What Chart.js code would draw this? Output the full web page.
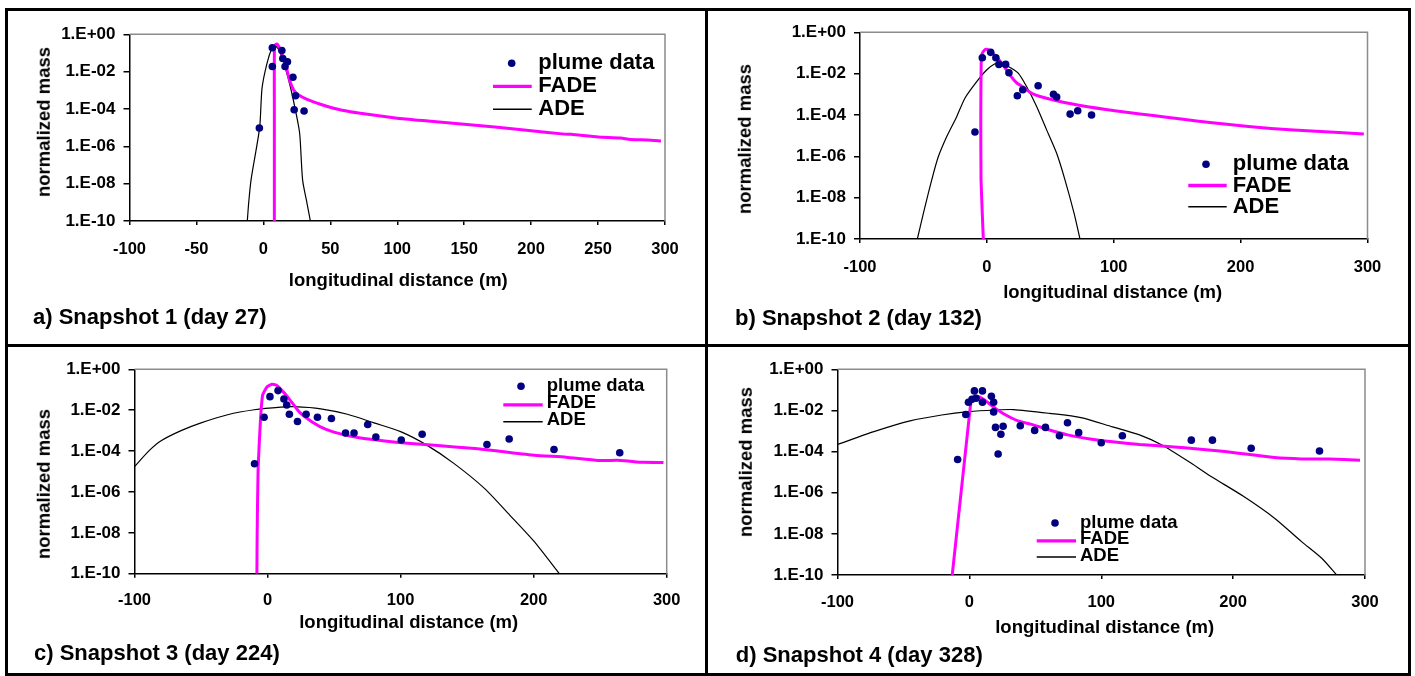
<!DOCTYPE html>
<html>
<head>
<meta charset="utf-8">
<title>Plume snapshots</title>
<script src="https://cdn.jsdelivr.net/npm/chart.js@4.4.0/dist/chart.umd.min.js"></script>
<style>
  body { margin:0; background:#fff; width:1415px; height:676px; overflow:hidden; position:relative;
         font-family:"Liberation Sans", Arial, sans-serif; font-weight:bold; color:#000; }
  #frame { position:absolute; left:5px; top:8px; width:1406px; height:668px; border:3px solid #000; box-sizing:border-box; }
  #vdiv { position:absolute; left:705px; top:8px; width:3px; height:668px; background:#000; }
  #hdiv { position:absolute; left:5px; top:344px; width:1406px; height:3px; background:#000; }
  canvas { position:absolute; }
  .lbl { position:absolute; white-space:nowrap; line-height:1; }
</style>
</head>
<body>
<div id="frame"></div>
<div id="vdiv"></div>
<div id="hdiv"></div>

<script>
// axis ticks
var xTicksA = [-100, -50, 0, 50, 100, 150, 200, 250, 300];
var xTicksWide = [-100, 0, 100, 200, 300];
var yTicks = [1e-10, 1e-8, 1e-6, 1e-4, 1e-2, 1];
var yTickLabels = ['1.E-10', '1.E-08', '1.E-06', '1.E-04', '1.E-02', '1.E+00'];

var seriesNames = ['plume data', 'FADE', 'ADE'];
var xTitle = 'longitudinal distance (m)';
var yTitle = 'normalized mass';
var captions = ['a) Snapshot 1 (day 27)', 'b) Snapshot 2 (day 132)', 'c) Snapshot 3 (day 224)', 'd) Snapshot 4 (day 328)'];

// snapshot 1 (day 27): [distance m, normalized mass]
var plume1 = [[-3, 9.5e-6], [6.7, 0.19], [6.7, 0.019], [13.8, 0.135], [14.5, 0.051], [16.2, 0.019], [18, 0.034],
  [22.1, 5e-3], [24, 5.1e-4], [23, 9.1e-5], [30.4, 7.8e-5]];
var fade1 = [[8.2, 1e-10], [8.2, 1e-4], [8.2, 0.2], [9.2, 0.29], [10.2, 0.30], [11.5, 0.22], [12.7, 0.145], [16.4, 0.028],
  [19.6, 3.5e-3], [22.6, 1.05e-3], [26.4, 5.6e-4], [32.6, 3.3e-4], [42.6, 1.8e-4], [52.5, 1.1e-4], [65, 7.1e-5],
  [72.4, 5.9e-5], [100, 3.2e-5], [125, 2.2e-5], [150, 1.5e-5], [175, 1.05e-5], [200, 6.9e-6], [225, 4.5e-6],
  [230, 4.4e-6], [250, 3.2e-6], [267, 2.8e-6], [274, 2.3e-6], [287, 2.2e-6], [297, 1.95e-6]];
var ade1 = [[-12, 1e-10], [-11, 8.9e-10], [-9.2, 1.6e-8], [-2.8, 1e-5], [-1, 1.3e-3], [2.7, 0.028], [6.5, 0.19],
  [8.5, 0.25], [11, 0.17], [12.7, 0.095], [15.7, 0.023], [20.1, 1.6e-3], [23.9, 8.9e-5], [27.1, 5e-6],
  [29.3, 1.6e-8], [32.6, 8.9e-10], [35.1, 1e-10]];

// snapshot 2 (day 132)
var plume2 = [[-9.4, 1.5e-5], [-3.6, 0.059], [3, 0.107], [7.1, 0.059], [9.5, 0.028], [14.8, 0.028], [17.4, 0.011],
  [24, 8.5e-4], [28.3, 1.65e-3], [40.4, 2.6e-3], [52.5, 1.0e-3], [55, 7.4e-4], [65.6, 1.1e-4], [71.6, 1.6e-4],
  [82.5, 1.0e-4]];
var fade2 = [[-2.8, 1e-10], [-4.6, 7e-8], [-4.8, 1e-4], [-4.5, 0.03], [-3.8, 0.09], [-2, 0.135], [0, 0.15], [3, 0.12],
  [7.7, 0.062], [12.9, 0.026], [18.2, 8.5e-3], [23.5, 3.6e-3], [28.7, 2.2e-3], [35.3, 1.12e-3], [41.9, 7.8e-4],
  [55, 4.9e-4], [76, 2.7e-4], [102.3, 1.55e-4], [120.7, 1.12e-4], [141.7, 7.8e-5], [154.8, 6.2e-5], [175.8, 4.3e-5],
  [206.2, 2.75e-5], [241.8, 1.86e-5], [277.5, 1.41e-5], [297.1, 1.2e-5]];
var ade2 = [[-54.8, 1e-10], [-50.1, 1.7e-9], [-43.5, 7.1e-8], [-38.3, 9.5e-7], [-31.7, 8.9e-6], [-23.8, 8.3e-5],
  [-17.3, 6.5e-4], [-8, 4.1e-3], [-0.2, 0.015], [6.4, 0.030], [10.3, 0.032], [16.9, 0.022], [24.7, 0.0105],
  [31.4, 2.3e-3], [39.3, 2.5e-4], [47.1, 1.9e-5], [55, 1.4e-6], [61.6, 7.1e-8], [68.8, 1.7e-9], [73.4, 1e-10]];

// snapshot 3 (day 224)
var plume3 = [[-9.8, 2.4e-5], [-2.6, 4.5e-3], [1.8, 0.046], [7.9, 0.091], [12.3, 0.035], [14.4, 0.018], [16.4, 6.3e-3],
  [22.5, 2.8e-3], [29, 6.3e-3], [37.5, 4.5e-3], [48, 3.9e-3], [58.6, 7.6e-4], [65, 7.6e-4], [75.3, 2.0e-3],
  [81.4, 4.9e-4], [100.5, 3.5e-4], [116.2, 6.6e-4], [164.9, 2.1e-4], [181.6, 3.9e-4], [215.3, 1.2e-4], [264.7, 8.3e-5]];
var fade3 = [[-8, 1e-10], [-7.8, 1e-8], [-7.1, 1.4e-5], [-5.4, 2.75e-3], [-3.7, 0.055], [-0.3, 0.141], [3.2, 0.186],
  [6.5, 0.17], [11.6, 0.081], [16.8, 0.032], [23.6, 8.5e-3], [33.8, 2.6e-3], [44, 1.15e-3], [57.6, 6.2e-4],
  [71.2, 4.2e-4], [88, 3.1e-4], [105.2, 2.4e-4], [125.6, 1.9e-4], [156, 1.32e-4], [173.3, 1.0e-4], [200.6, 6.3e-5],
  [224.4, 5.0e-5], [248.3, 3.5e-5], [265.3, 3.5e-5], [282.3, 2.8e-5], [297.6, 2.75e-5]];
var ade3 = [[-100, 1.74e-5], [-89, 1.05e-4], [-80, 3.2e-4], [-65, 1.0e-3], [-50, 2.4e-3], [-30, 6.0e-3], [-10, 0.0105],
  [10, 0.0141], [20, 0.0148], [40, 0.0117], [60, 6.3e-3], [80, 2.4e-3], [100, 8.9e-4], [120, 1.9e-4], [140, 2.5e-5],
  [163, 1.5e-6], [182, 7.4e-8], [200, 4.0e-9], [219.3, 1e-10]];

// snapshot 4 (day 328)
var plume4 = [[-8.9, 4.1e-5], [-2.7, 6.3e-3], [-0.7, 0.025], [2.0, 0.035], [3.8, 0.089], [5.1, 0.039], [9.9, 0.089],
  [9.9, 0.025], [16.7, 0.049], [18.4, 0.025], [18.4, 8.5e-3], [19.8, 1.5e-3], [21.8, 7.6e-5], [23.9, 6.9e-4],
  [25.6, 1.7e-3], [38.6, 1.8e-3], [49.5, 1.07e-3], [57.7, 1.5e-3], [68.3, 5.9e-4], [74.4, 2.5e-3], [82.9, 8.3e-4],
  [100, 2.7e-4], [116, 5.9e-4], [168.3, 3.6e-4], [184.3, 3.6e-4], [213.7, 1.45e-4], [265.5, 1.07e-4]];
var fade4 = [[-13, 1e-10], [0.3, 8.7e-3], [1.5, 0.032], [4, 0.050], [8, 0.044], [13, 0.027], [19.8, 0.0126],
  [26.6, 6.5e-3], [36.9, 3.1e-3], [47.1, 2.1e-3], [60.8, 1.12e-3], [74.4, 6.5e-4], [91.5, 4.1e-4], [108.5, 3.0e-4],
  [129, 2.2e-4], [152.9, 1.74e-4], [173.4, 1.35e-4], [193.9, 1.0e-4], [211, 7.4e-5], [231.4, 5.1e-5],
  [251.9, 4.4e-5], [272.4, 4.4e-5], [296.2, 3.8e-5]];
var ade4 = [[-100, 2.2e-4], [-72.4, 9.3e-4], [-45, 3.1e-3], [-21, 6.0e-3], [-0.7, 8.7e-3], [19.8, 0.0105],
  [33.4, 0.011], [60.8, 7.2e-3], [84.6, 4.5e-3], [108.5, 1.6e-3], [129, 6.5e-4], [146, 2.1e-4], [168.3, 2.7e-5],
  [183.6, 6.0e-6], [207.5, 6.9e-7], [231.4, 5.8e-8], [251.9, 4.2e-9], [267.2, 6.5e-10], [278.5, 1e-10]];

var FONT = '"Liberation Sans", Arial, sans-serif';

// where each panel sits on the page and where its plot area goes inside the canvas
var panels = [
  { box: [8, 11, 697, 333], area: { left: 121.5, top: 23.3, right: 657, bottom: 210 }, xTicks: xTicksA, xPad: 14.7,
    legend: { size: 22, dotX: 503.7, textX: 530.3, lineX1: 485, lineX2: 523.7, y: 52.3, gap: 23, lineDy: 0 },
    xTitlePos: [398.3, 280], yTitlePos: [44, 122.2], captionPos: [33, 316.7],
    plume: plume1, fade: fade1, ade: ade1 },
  { box: [708, 11, 700, 333], area: { left: 152, top: 21.3, right: 659.5, bottom: 228 }, xTicks: xTicksWide, xPad: 14.1,
    legend: { size: 22, dotX: 498, textX: 524.7, lineX1: 480.3, lineX2: 518.7, y: 153.2, gap: 21.3, lineDy: 0 },
    xTitlePos: [1112.6, 291.7], yTitlePos: [744.9, 139.2], captionPos: [735, 318.3],
    plume: plume2, fade: fade2, ade: ade2 },
  { box: [8, 347, 697, 326], area: { left: 126.5, top: 22.3, right: 658.7, bottom: 226.7 }, xTicks: xTicksWide, xPad: 12.7,
    legend: { size: 18.5, dotX: 513, textX: 538.7, lineX1: 495.3, lineX2: 534.7, y: 39.3, gap: 17, lineDy: 1.5 },
    xTitlePos: [408.7, 622.3], yTitlePos: [43.9, 484], captionPos: [34, 653.3],
    plume: plume3, fade: fade3, ade: ade3 },
  { box: [708, 347, 700, 326], area: { left: 129.5, top: 22.3, right: 657, bottom: 228 }, xTicks: xTicksWide, xPad: 13.1,
    legend: { size: 18.5, dotX: 347, textX: 372, lineX1: 328.7, lineX2: 368, y: 176, gap: 16.3, lineDy: 1.5 },
    xTitlePos: [1104.7, 626.7], yTitlePos: [745.8, 462.2], captionPos: [735.8, 655],
    plume: plume4, fade: fade4, ade: ade4 }
];

// gray border on the top and right of the plot area
var plotFrame = {
  id: 'plotFrame',
  beforeDatasetsDraw: function(chart) {
    var a = chart.chartArea, ctx = chart.ctx;
    ctx.save();
    ctx.strokeStyle = '#8c8c8c';
    ctx.lineWidth = 1.5;
    ctx.beginPath();
    ctx.moveTo(a.left, a.top);
    ctx.lineTo(a.right, a.top);
    ctx.lineTo(a.right, a.bottom);
    ctx.stroke();
    ctx.restore();
  }
};

// legend drawn inside the plot, one row per dataset
var insideLegend = {
  id: 'insideLegend',
  afterDatasetsDraw: function(chart, args, opts) {
    var ctx = chart.ctx;
    ctx.save();
    ctx.font = 'bold ' + opts.size + 'px ' + FONT;
    ctx.textBaseline = 'middle';
    ctx.textAlign = 'left';
    chart.data.datasets.forEach(function(ds, i) {
      var rowY = opts.y + i * opts.gap;
      if (ds.showLine === false) {
        ctx.beginPath();
        ctx.arc(opts.dotX, rowY, ds.pointRadius, 0, Math.PI * 2);
        ctx.fillStyle = ds.backgroundColor;
        ctx.fill();
      } else {
        ctx.beginPath();
        ctx.moveTo(opts.lineX1, rowY + opts.lineDy);
        ctx.lineTo(opts.lineX2, rowY + opts.lineDy);
        ctx.strokeStyle = ds.borderColor;
        ctx.lineWidth = ds.borderWidth + 0.3;
        ctx.stroke();
      }
      ctx.fillStyle = '#000';
      ctx.fillText(ds.label, opts.textX, rowY);
    });
    ctx.restore();
  }
};

function toXY(pts) {
  return pts.map(function(p) { return { x: p[0], y: p[1] }; });
}

function addLabel(text, x, y, size, css) {
  var d = document.createElement('div');
  d.className = 'lbl';
  d.textContent = text;
  d.style.left = x + 'px';
  d.style.top = y + 'px';
  d.style.fontSize = size + 'px';
  d.style.transform = css;
  document.body.appendChild(d);
}

panels.forEach(function(p, k) {
  var cv = document.createElement('canvas');
  cv.width = p.box[2];
  cv.height = p.box[3];
  cv.style.left = p.box[0] + 'px';
  cv.style.top = p.box[1] + 'px';
  document.body.appendChild(cv);

  new Chart(cv, {
    type: 'scatter',
    data: {
      datasets: [
        { label: seriesNames[0], data: toXY(p.plume), showLine: false, pointRadius: 3.8, pointHoverRadius: 3.8,
          backgroundColor: '#000080', borderWidth: 0, pointBorderWidth: 0 },
        { label: seriesNames[1], data: toXY(p.fade), showLine: true, borderColor: '#ff00ff', borderWidth: 3,
          pointRadius: 0, tension: 0.15 },
        { label: seriesNames[2], data: toXY(p.ade), showLine: true, borderColor: '#000000', borderWidth: 1.2,
          pointRadius: 0, tension: 0.25 }
      ]
    },
    options: {
      responsive: false,
      animation: false,
      layout: { padding: { left: 0, top: p.area.top, right: p.box[2] - p.area.right, bottom: 0 } },
      plugins: {
        legend: { display: false },
        tooltip: { enabled: false },
        insideLegend: p.legend
      },
      scales: {
        x: {
          type: 'linear', min: -100, max: 300,
          afterBuildTicks: function(s) { s.ticks = p.xTicks.map(function(v) { return { value: v }; }); },
          afterFit: function(s) { s.height = p.box[3] - p.area.bottom; },
          grid: { drawOnChartArea: false, drawTicks: true, tickLength: 4, color: '#000', lineWidth: 1.5 },
          border: { display: true, color: '#000', width: 1.5 },
          ticks: { font: { family: FONT, size: 16.5, weight: 'bold' }, color: '#000', padding: p.xPad,
                   maxRotation: 0, autoSkip: false }
        },
        y: {
          type: 'logarithmic', min: 1e-10, max: 1,
          afterBuildTicks: function(s) { s.ticks = yTicks.map(function(v) { return { value: v }; }); },
          afterFit: function(s) { s.width = p.area.left; },
          grid: { drawOnChartArea: false, drawTicks: true, tickLength: 6, color: '#000', lineWidth: 1.5 },
          border: { display: true, color: '#000', width: 1.5 },
          ticks: { font: { family: FONT, size: 17, weight: 'bold' }, color: '#000', padding: 8,
                   callback: function(v) { return yTickLabels[yTicks.indexOf(v)]; } }
        }
      }
    },
    plugins: [plotFrame, insideLegend]
  });

  addLabel(xTitle, p.xTitlePos[0], p.xTitlePos[1], 18.5, 'translate(-50%, -50%)');
  addLabel(yTitle, p.yTitlePos[0], p.yTitlePos[1], 18.5, 'translate(-50%, -50%) rotate(-90deg)');
  addLabel(captions[k], p.captionPos[0], p.captionPos[1], 22, 'translate(0, -50%)');
});
</script>
</body>
</html>
